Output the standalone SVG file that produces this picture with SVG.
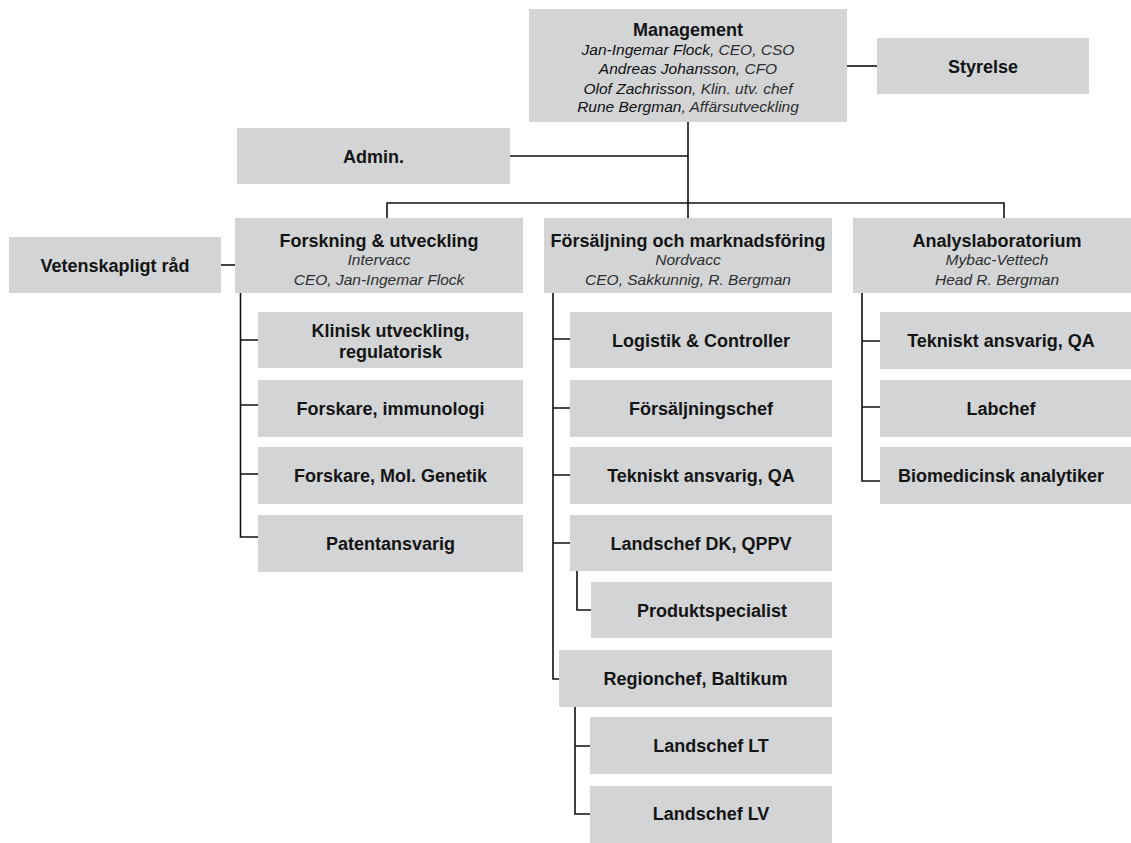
<svg xmlns="http://www.w3.org/2000/svg" width="1131" height="843" viewBox="0 0 1131 843">
<style>
.box{fill:#d3d4d6}
.t{font-family:"Liberation Sans",Arial,sans-serif;font-size:18px;font-weight:bold;fill:#141414;text-anchor:middle}
.i{font-family:"Liberation Sans",Arial,sans-serif;font-size:15.5px;font-style:italic;fill:#2e2e2e;text-anchor:middle}
.n{fill:#111}
.c{fill:none;stroke:#111;stroke-width:1.6}
</style>
<rect width="1131" height="843" fill="#fff"/>
<g id="connectors">
<path class="c" d="M847,66H877"/>
<path class="c" d="M688,122V218"/>
<path class="c" d="M510,156H688"/>
<path class="c" d="M387,218V203H1004V218"/>
<path class="c" d="M221,265H235"/>
<path class="c" d="M240.5,293V537H258M240.5,340H258M240.5,405H258M240.5,474H258"/>
<path class="c" d="M553,293V679H559M553,339H570M553,408H570M553,475H570M553,543H570"/>
<path class="c" d="M577,571V610H591"/>
<path class="c" d="M575,707V814H590M575,746H590"/>
<path class="c" d="M862,293V481H880M862,341H880M862,407H880"/>
</g>
<g id="management">
<rect class="box" x="529" y="9" width="318" height="113"/>
<text class="t" x="688" y="35.5">Management</text>
<text class="i" x="688" y="55"><tspan class="n">Jan-Ingemar Flock</tspan>, CEO, CSO</text>
<text class="i" x="688" y="74"><tspan class="n">Andreas Johansson</tspan>, CFO</text>
<text class="i" x="688" y="93.5"><tspan class="n">Olof Zachrisson</tspan>, Klin. utv. chef</text>
<text class="i" x="688" y="112"><tspan class="n">Rune Bergman</tspan>, Affärsutveckling</text>
</g>
<g id="styrelse">
<rect class="box" x="877" y="38" width="212" height="56"/>
<text class="t" x="983" y="72.5">Styrelse</text>
</g>
<g id="admin">
<rect class="box" x="237" y="128" width="273" height="56"/>
<text class="t" x="373.5" y="162.5">Admin.</text>
</g>
<g id="vetenskapligt">
<rect class="box" x="9" y="237" width="212" height="56"/>
<text class="t" x="115" y="271.5">Vetenskapligt råd</text>
</g>
<g id="forskning">
<rect class="box" x="235" y="218" width="288" height="75"/>
<text class="t" x="379" y="246.5">Forskning &amp; utveckling</text>
<text class="i" x="379" y="264.5">Intervacc</text>
<text class="i" x="379" y="284.5">CEO, Jan-Ingemar Flock</text>
</g>
<g id="forsaljning">
<rect class="box" x="544" y="218" width="288" height="75"/>
<text class="t" x="688" y="246.5">Försäljning och marknadsföring</text>
<text class="i" x="688" y="264.5">Nordvacc</text>
<text class="i" x="688" y="284.5">CEO, Sakkunnig, R. Bergman</text>
</g>
<g id="analys">
<rect class="box" x="853" y="218" width="278" height="75"/>
<text class="t" x="997" y="246.5">Analyslaboratorium</text>
<text class="i" x="997" y="264.5">Mybac-Vettech</text>
<text class="i" x="997" y="284.5">Head R. Bergman</text>
</g>
<g id="klinisk">
<rect class="box" x="258" y="312" width="265" height="56"/>
<text class="t" x="390.5" y="337">Klinisk utveckling,</text>
<text class="t" x="390.5" y="358">regulatorisk</text>
</g>
<g id="forskare-immunologi">
<rect class="box" x="258" y="380" width="265" height="57"/>
<text class="t" x="390.5" y="414.5">Forskare, immunologi</text>
</g>
<g id="forskare-genetik">
<rect class="box" x="258" y="447" width="265" height="57"/>
<text class="t" x="390.5" y="481.5">Forskare, Mol. Genetik</text>
</g>
<g id="patent">
<rect class="box" x="258" y="515" width="265" height="57"/>
<text class="t" x="390.5" y="549.5">Patentansvarig</text>
</g>
<g id="logistik">
<rect class="box" x="570" y="312" width="262" height="56"/>
<text class="t" x="701" y="346.5">Logistik &amp; Controller</text>
</g>
<g id="forsaljningschef">
<rect class="box" x="570" y="380" width="262" height="57"/>
<text class="t" x="701" y="414.5">Försäljningschef</text>
</g>
<g id="tekniskt-fm">
<rect class="box" x="570" y="447" width="262" height="57"/>
<text class="t" x="701" y="481.5">Tekniskt ansvarig, QA</text>
</g>
<g id="landschef-dk">
<rect class="box" x="570" y="515" width="262" height="56"/>
<text class="t" x="701" y="549.5">Landschef DK, QPPV</text>
</g>
<g id="produktspecialist">
<rect class="box" x="591" y="582" width="241" height="56"/>
<text class="t" x="712" y="616.5">Produktspecialist</text>
</g>
<g id="regionchef">
<rect class="box" x="559" y="650" width="273" height="57"/>
<text class="t" x="695.5" y="684.5">Regionchef, Baltikum</text>
</g>
<g id="landschef-lt">
<rect class="box" x="590" y="717" width="242" height="57"/>
<text class="t" x="711" y="751.5">Landschef LT</text>
</g>
<g id="landschef-lv">
<rect class="box" x="590" y="786" width="242" height="57"/>
<text class="t" x="711" y="820">Landschef LV</text>
</g>
<g id="tekniskt-al">
<rect class="box" x="880" y="312" width="251" height="57"/>
<text class="t" x="1001" y="346.5">Tekniskt ansvarig, QA</text>
</g>
<g id="labchef">
<rect class="box" x="880" y="380" width="251" height="57"/>
<text class="t" x="1001" y="414.5">Labchef</text>
</g>
<g id="biomedicinsk">
<rect class="box" x="880" y="447" width="251" height="57"/>
<text class="t" x="1001" y="481.5">Biomedicinsk analytiker</text>
</g>
</svg>
